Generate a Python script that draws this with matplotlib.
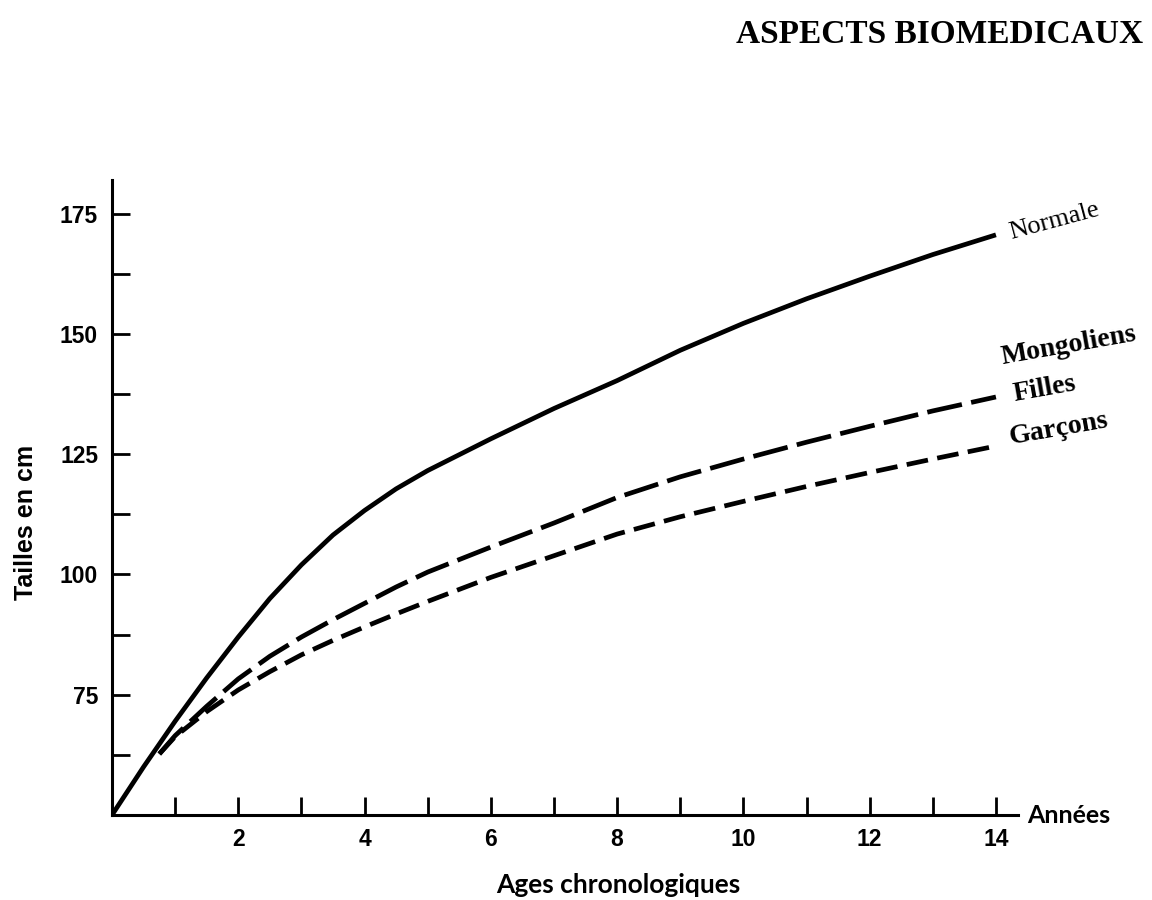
import matplotlib
matplotlib.use("Agg")
import matplotlib.pyplot as plt

# Data (age in years, height in cm)
normale_age = [0, 0.5, 1, 1.5, 2, 2.5, 3, 3.5, 4, 4.5, 5, 6, 7, 8, 9, 10, 11, 12, 13, 14]
normale_h = [50, 60, 69.5, 78.5, 87, 95, 102, 108.2, 113.3, 117.8, 121.6, 128.2, 134.5, 140.3, 146.6, 152.2, 157.3, 162, 166.5, 170.6]

filles_age = [0.75, 1, 1.5, 2, 2.5, 3, 3.5, 4, 4.5, 5, 6, 7, 8, 9, 10, 11, 12, 13, 14]
filles_h = [62.7, 66.5, 72.6, 78.3, 83, 87, 90.6, 94, 97.4, 100.5, 105.7, 110.7, 116, 120.3, 124, 127.5, 130.8, 134, 136.9]

garcons_age = [0.75, 1, 1.5, 2, 2.5, 3, 3.5, 4, 4.5, 5, 6, 7, 8, 9, 10, 11, 12, 13, 14]
garcons_h = [62.7, 66.3, 71.5, 76, 79.8, 83.3, 86.3, 89.1, 91.8, 94.4, 99.4, 103.9, 108.4, 112, 115.2, 118.3, 121.2, 124, 126.7]

x_major = [2, 4, 6, 8, 10, 12, 14]
x_minor = [1, 3, 5, 7, 9, 11, 13]
y_major = [75, 100, 125, 150, 175]
y_minor = [62.5, 87.5, 112.5, 137.5, 162.5]

fig = plt.figure(figsize=(11.52, 9), dpi=100)
ax = fig.add_axes([0.0972, 0.0944, 0.7865, 0.7056])
ax.set_xlim(0, 14.35)
ax.set_ylim(50, 182)

lw = 3.4
ax.plot(normale_age, normale_h, color="black", lw=lw, solid_capstyle="butt",
        solid_joinstyle="round")
ax.plot(filles_age, filles_h, color="black", lw=lw, dashes=(7.5, 2.0),
        dash_capstyle="butt", dash_joinstyle="round")
ax.plot(garcons_age, garcons_h, color="black", lw=lw, dashes=(4.6, 2.0),
        dash_capstyle="butt", dash_joinstyle="round")

for s in ["top", "right"]:
    ax.spines[s].set_visible(False)
for s in ["left", "bottom"]:
    ax.spines[s].set_linewidth(2.2)

ax.set_xticks(x_major)
ax.set_xticks(x_minor, minor=True)
ax.set_yticks(y_major)
ax.set_yticks(y_minor, minor=True)
ax.tick_params(axis="both", which="both", direction="in", width=2.0, length=13, color="black")
ax.tick_params(axis="x", which="major", pad=9)
ax.tick_params(axis="y", which="major", pad=10)
for lab in ax.get_xticklabels() + ax.get_yticklabels():
    lab.set_fontfamily("Liberation Sans")
    lab.set_fontweight("bold")
    lab.set_fontsize(16.5)

# y label
fig.text(0.023, 0.42, "Tailles en cm", rotation=90, ha="center", va="center",
         fontsize=18, fontweight="bold", family="Liberation Sans")
# x label
fig.text(0.5365, 0.017, "Ages chronologiques", ha="center", va="center",
         fontsize=19, fontweight="bold", family="Lato")
ax.text(14.5, 50, "Années", ha="left", va="center", fontsize=18,
        fontweight="bold", family="Lato", clip_on=False)

# Curve labels
ax.text(14.18, 173.5, "Normale", ha="left", va="center", rotation=15, fontsize=19,
        family="Liberation Serif", clip_on=False)
ax.text(14.05, 147.6, "Mongoliens", ha="left", va="center", rotation=10, fontsize=20,
        fontweight="bold", family="Liberation Serif", clip_on=False)
ax.text(14.25, 138.5, "Filles", ha="left", va="center", rotation=10, fontsize=20,
        fontweight="bold", family="Liberation Serif", clip_on=False)
ax.text(14.18, 130.3, "Garçons", ha="left", va="center", rotation=10, fontsize=20,
        fontweight="bold", family="Liberation Serif", clip_on=False)

# Page header
fig.text(0.992, 0.962, "ASPECTS BIOMEDICAUX", ha="right", va="center",
         fontsize=24, fontweight="bold", family="Liberation Serif")

fig.savefig("out.png", dpi=100)
